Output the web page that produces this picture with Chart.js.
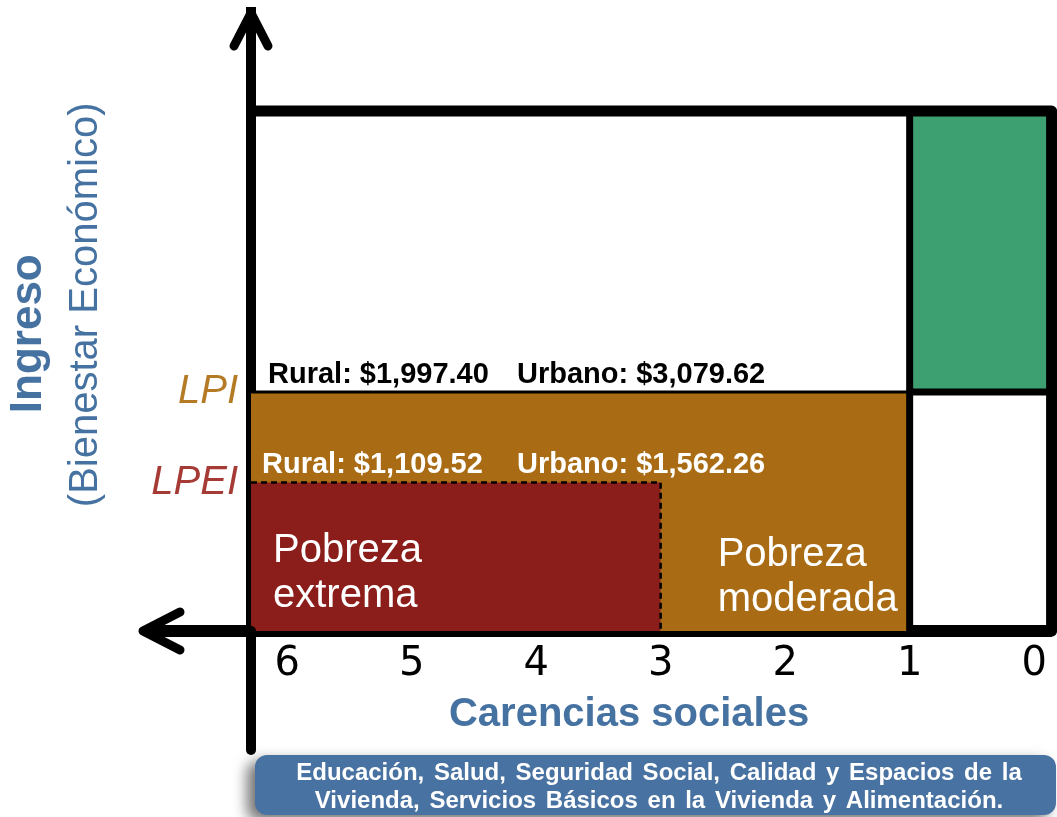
<!DOCTYPE html>
<html>
<head>
<meta charset="utf-8">
<script src="https://cdn.jsdelivr.net/npm/chart.js@4.4.0/dist/chart.umd.min.js"></script>
<style>
  html, body { margin: 0; padding: 0; background: #fff; }
</style>
</head>
<body>
<canvas id="pobreza" width="1057" height="817"></canvas>
<script>
// datos del esquema
const carencias = [6, 5, 4, 3, 2, 1, 0];
const lineas = ['LPEI', 'LPI'];
const ingresoLinea = [24, 38.6];          // altura esquematica de LPEI y LPI
const coloresLinea = ['#a63b35', '#b47a24'];
const rural = ['$1,109.52', '$1,997.40'];
const urbano = ['$1,562.26', '$3,079.62'];
const corteCarencias = [3, 1];            // pobreza extrema desde 3 carencias, pobreza desde 1
const zonas = [['Pobreza', 'extrema'], ['Pobreza', 'moderada']];
const techo = 84;
const carenciasMin = -0.14, carenciasMax = 6.29;
const derechos = ['Educación, Salud, Seguridad Social, Calidad y Espacios de la',
                  'Vivienda, Servicios Básicos en la Vivienda y Alimentación.'];

const azul = '#4672a1';
const sans = '"Liberation Sans", Arial, sans-serif';

// flechas de los ejes
const flechas = {
  id: 'flechas',
  afterDraw(chart) {
    const {ctx, chartArea: a} = chart;
    ctx.save();
    ctx.strokeStyle = '#000';
    ctx.lineCap = 'round';
    ctx.lineJoin = 'round';
    ctx.lineWidth = 10;
    ctx.beginPath();
    ctx.moveTo(a.left, a.bottom);
    ctx.lineTo(a.left, 750);
    ctx.stroke();
    ctx.lineWidth = 9;
    ctx.beginPath();
    ctx.moveTo(a.left - 17, a.top + 34);
    ctx.lineTo(a.left, a.top + 1);
    ctx.lineTo(a.left + 17, a.top + 34);
    ctx.stroke();
    ctx.lineWidth = 12;
    ctx.lineCap = 'butt';
    ctx.beginPath();
    ctx.moveTo(a.left, a.bottom);
    ctx.lineTo(146, a.bottom);
    ctx.stroke();
    ctx.lineWidth = 9;
    ctx.lineCap = 'round';
    ctx.beginPath();
    ctx.moveTo(180, a.bottom - 19);
    ctx.lineTo(143, a.bottom);
    ctx.lineTo(180, a.bottom + 19);
    ctx.stroke();
    ctx.restore();
  }
};

// montos, nombres de zonas y recuadro de carencias
const textos = {
  id: 'textos',
  afterDraw(chart) {
    const {ctx, chartArea: a, scales: {x, y}} = chart;
    ctx.save();
    ctx.textAlign = 'left';
    ctx.textBaseline = 'alphabetic';
    ctx.font = 'bold 29px ' + sans;
    [1, 0].forEach(i => {
      const yy = y.getPixelForValue(ingresoLinea[i]) - 9;
      ctx.fillStyle = i ? '#000' : '#fff';
      ctx.fillText('Rural: ' + rural[i], a.left + (i ? 17 : 11), yy);
      ctx.fillText('Urbano: ' + urbano[i], a.left + 266, yy);
    });

    ctx.font = '40px ' + sans;
    ctx.fillStyle = '#fff';
    const base = y.getPixelForValue(0);
    ctx.fillText(zonas[0][0], a.left + 22, base - 69);
    ctx.fillText(zonas[0][1], a.left + 22, base - 24);
    const xm = x.getPixelForValue(corteCarencias[0]) + 57;
    ctx.fillText(zonas[1][0], xm, base - 65);
    ctx.fillText(zonas[1][1], xm, base - 20);

    // recuadro azul
    ctx.save();
    ctx.shadowColor = 'rgba(0,0,0,0.55)';
    ctx.shadowBlur = 14;
    ctx.shadowOffsetX = -8;
    ctx.shadowOffsetY = 6;
    ctx.fillStyle = '#4872a1';
    ctx.beginPath();
    ctx.roundRect(a.left + 4, 755, chart.width - a.left - 5, 60, 12);
    ctx.fill();
    ctx.restore();
    ctx.fillStyle = '#fff';
    ctx.font = 'bold 24px ' + sans;
    ctx.wordSpacing = '3px';
    ctx.textAlign = 'center';
    ctx.fillText(derechos[0], 659, 780);
    ctx.fillText(derechos[1], 659, 808);
    ctx.restore();
  }
};

const sinPunto = {pointRadius: 0, pointHoverRadius: 0, tension: 0};

new Chart(document.getElementById('pobreza'), {
  type: 'line',
  data: {
    datasets: [
      { // marco
        ...sinPunto,
        data: [{x: carenciasMax, y: techo}, {x: carenciasMin, y: techo}, {x: carenciasMin, y: 0}],
        borderColor: '#000', borderWidth: 11, borderJoinStyle: 'round', fill: false, clip: false
      },
      { // division en 1 carencia
        ...sinPunto,
        data: [{x: corteCarencias[1], y: 0}, {x: corteCarencias[1], y: techo}],
        borderColor: '#000', borderWidth: 7, fill: false
      },
      { // pobreza extrema
        ...sinPunto,
        data: [{x: carenciasMax, y: ingresoLinea[0]}, {x: corteCarencias[0], y: ingresoLinea[0]},
               {x: corteCarencias[0], y: 0}],
        borderColor: '#000', borderWidth: 2.5, borderDash: [6, 4],
        backgroundColor: '#8b1e1a', fill: 'origin'
      },
      { // pobreza moderada
        ...sinPunto,
        data: [{x: carenciasMax, y: ingresoLinea[1]}, {x: corteCarencias[1], y: ingresoLinea[1]}],
        borderColor: '#000', borderWidth: 3,
        backgroundColor: '#a96c14', fill: 'origin'
      },
      { // no pobres ni vulnerables
        ...sinPunto,
        data: [{x: corteCarencias[1], y: ingresoLinea[1]}, {x: carenciasMin, y: ingresoLinea[1]}],
        borderColor: '#000', borderWidth: 7,
        backgroundColor: '#3ca071', fill: {value: techo}
      }
    ]
  },
  options: {
    responsive: false,
    animation: false,
    layout: {padding: {left: 0, right: 5, top: 12, bottom: 78}},
    plugins: {legend: {display: false}, tooltip: {enabled: false}},
    scales: {
      x: {
        type: 'linear', position: 'bottom', reverse: true,
        min: carenciasMin, max: carenciasMax, z: 1,
        grid: {display: false, drawTicks: false},
        border: {display: true, color: '#000', width: 12},
        afterBuildTicks: s => { s.ticks = carencias.map(v => ({value: v})); },
        ticks: {
          autoSkip: false, maxRotation: 0, padding: 10, color: '#000',
          font: {family: '"DejaVu Sans"', size: 40}
        },
        title: {
          // espacios finales: el titulo queda algo a la izquierda, como en el original
          display: true, text: 'Carencias sociales    ', color: azul,
          font: {family: sans, size: 40, weight: 'bold'}, padding: {top: -8, bottom: 0}
        }
      },
      y: {
        type: 'linear', position: 'left', weight: 0, min: 0, max: 100, z: 1,
        grid: {display: false, drawTicks: false},
        border: {display: true, color: '#000', width: 10},
        afterBuildTicks: s => { s.ticks = ingresoLinea.map(v => ({value: v})); },
        afterFit: s => { s.width = 195; s.paddingTop = 0; s.paddingBottom = 0; },
        ticks: {
          padding: 13,
          callback: (v, i) => lineas[i],
          color: c => coloresLinea[c.index],
          font: {family: sans, size: 40, style: 'italic'}
        },
        title: {
          display: true, text: '   (Bienestar Económico)', color: azul,
          font: {family: sans, size: 40}, padding: {top: 6, bottom: 0}
        }
      },
      y2: {
        type: 'linear', position: 'left', weight: 1, min: 0, max: 100,
        grid: {display: false, drawTicks: false},
        border: {display: false},
        ticks: {display: false},
        afterFit: s => { s.width = 56; s.paddingTop = 0; s.paddingBottom = 0; },
        title: {
          display: true, text: 'Ingreso  ', color: azul,
          font: {family: sans, size: 44, weight: 'bold'}, padding: {top: 2, bottom: 0}
        }
      }
    }
  },
  plugins: [flechas, textos]
});
</script>
</body>
</html>
